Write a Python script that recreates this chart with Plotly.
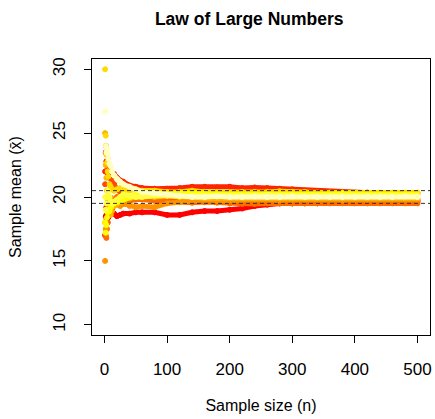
import plotly.graph_objects as go

n_sizes = [1, 2, 3, 4, 5, 6, 8, 10, 12, 15, 20, 25, 30, 40, 50, 60, 80, 100, 120, 140,
           160, 180, 200, 220, 240, 260, 280, 300, 320, 340, 360, 380, 400, 420, 440, 460, 480, 500]

# running sample means, one list per simulated sequence (heat colours, red -> pale yellow)
mean_red = [17.0, 18.5, 19.2, 18.6, 18.0, 18.4, 18.9, 19.3, 19.0, 18.7, 18.5, 18.6, 18.7, 18.7, 18.8, 18.8,
            18.8, 18.6, 18.6, 18.8, 18.9, 18.9, 19.0, 19.1, 19.3, 19.4, 19.5, 19.5, 19.6, 19.6, 19.65, 19.7,
            19.7, 19.7, 19.7, 19.7, 19.7, 19.7]
mean_red2 = [22.0, 23.5, 22.8, 22.0, 22.5, 21.8, 21.5, 21.9, 21.6, 21.8, 21.5, 21.3, 21.2, 20.9, 20.8, 20.7,
             20.65, 20.65, 20.7, 20.8, 20.8, 20.75, 20.8, 20.7, 20.75, 20.7, 20.65, 20.6, 20.5, 20.45, 20.4,
             20.4, 20.35, 20.35, 20.3, 20.3, 20.3, 20.3]
mean_orange_red = [21.0, 24.0, 23.4, 22.5, 22.2, 21.8, 22.0, 21.6, 21.2, 21.0, 20.6, 20.4, 20.2, 20.0, 20.1,
                   20.0, 19.9, 19.9, 19.8, 19.8, 19.7, 19.6, 19.6, 19.5, 19.5, 19.5, 19.5, 19.5, 19.5, 19.5,
                   19.55, 19.55, 19.55, 19.6, 19.6, 19.6, 19.6, 19.6]
mean_orange = [18.0, 17.0, 16.8, 17.5, 18.0, 18.6, 19.0, 19.3, 19.5, 19.8, 20.0, 19.9, 19.8, 19.7, 19.8, 19.8,
               19.7, 19.6, 19.6, 19.55, 19.6, 19.55, 19.5, 19.45, 19.45, 19.5, 19.5, 19.5, 19.5, 19.5, 19.5,
               19.5, 19.5, 19.5, 19.5, 19.5, 19.5, 19.5]
mean_dark_orange = [15.0, 17.5, 18.3, 19.0, 19.6, 19.2, 19.8, 19.5, 19.9, 19.6, 19.4, 19.3, 19.5, 19.3, 19.2,
                    19.3, 19.2, 19.5, 19.6, 19.7, 19.8, 19.7, 19.75, 19.8, 19.8, 19.8, 19.75, 19.8, 19.8, 19.8,
                    19.8, 19.75, 19.8, 19.8, 19.8, 19.8, 19.8, 19.8]
mean_amber = [25.0, 22.5, 21.5, 20.5, 19.8, 19.5, 19.0, 18.6, 18.9, 19.3, 19.5, 19.6, 19.8, 19.9, 20.0, 20.1,
              20.0, 20.1, 20.0, 20.0, 19.9, 19.9, 19.95, 19.9, 19.9, 19.95, 19.9, 19.9, 19.9, 19.95, 19.95,
              19.9, 19.9, 19.9, 19.9, 19.9, 19.9, 19.9]
mean_gold = [30.0, 24.8, 23.3, 22.7, 22.0, 21.6, 21.0, 20.8, 20.6, 20.5, 20.6, 20.7, 20.6, 20.5, 20.6, 20.5,
             20.5, 20.4, 20.4, 20.5, 20.4, 20.4, 20.35, 20.4, 20.4, 20.4, 20.45, 20.4, 20.4, 20.35, 20.35,
             20.35, 20.35, 20.35, 20.35, 20.35, 20.35, 20.35]
mean_yellow = [18.0, 17.2, 17.8, 18.4, 18.8, 19.0, 18.9, 19.2, 19.4, 19.5, 19.6, 19.7, 19.8, 20.0, 20.2, 20.3,
               20.3, 20.2, 20.3, 20.3, 20.25, 20.2, 20.2, 20.2, 20.2, 20.15, 20.2, 20.2, 20.2, 20.2, 20.2,
               20.25, 20.2, 20.2, 20.2, 20.2, 20.2, 20.2]
mean_light_yellow = [20.0, 19.0, 19.5, 20.0, 20.5, 20.2, 20.0, 19.7, 19.5, 19.6, 19.8, 20.0, 20.2, 20.1, 20.0,
                     20.0, 20.1, 20.1, 20.05, 20.1, 20.1, 20.1, 20.05, 20.1, 20.1, 20.15, 20.1, 20.1, 20.1,
                     20.1, 20.05, 20.1, 20.1, 20.1, 20.1, 20.1, 20.1, 20.1]
mean_cream = [26.7, 24.0, 23.5, 23.8, 23.4, 23.0, 22.6, 22.4, 22.0, 21.7, 21.4, 21.2, 21.0, 20.8, 20.6, 20.4,
              20.3, 20.2, 20.1, 20.0, 20.0, 20.05, 20.0, 20.0, 20.05, 20.0, 20.0, 20.05, 20.0, 20.0, 20.0,
              20.0, 20.0, 20.0, 20.0, 20.0, 20.05, 20.0]

all_means = [mean_red, mean_red2, mean_orange_red, mean_orange, mean_dark_orange,
             mean_amber, mean_gold, mean_yellow, mean_light_yellow, mean_cream]
colours = ["#FF0000", "#FF2400", "#FF4900", "#FF6D00", "#FF9200",
           "#FFB600", "#FFDB00", "#FFFF00", "#FFFF40", "#FFFFBF"]

band_lines = [19.5, 20.5]
x_ticks = [0, 100, 200, 300, 400, 500]
y_ticks = [10, 15, 20, 25, 30]

# first few sample sizes jump around a lot: show them as loose dots only
n_early = 10

fig = go.Figure()

for means, colour in zip(all_means, colours):
    fig.add_trace(go.Scatter(
        x=n_sizes[:n_early], y=means[:n_early], mode="markers",
        marker=dict(size=5, color=colour, line=dict(color=colour, width=1)),
        showlegend=False, hoverinfo="skip",
    ))
    fig.add_trace(go.Scatter(
        x=n_sizes[n_early - 1:], y=means[n_early - 1:], mode="lines+markers",
        line=dict(color=colour, width=5),
        marker=dict(size=5, color=colour, line=dict(color=colour, width=1)),
        showlegend=False, hoverinfo="skip",
    ))

for level in band_lines:
    fig.add_hline(y=level, line=dict(color="#333333", width=1, dash="4px,3px"))

font = "Liberation Sans"

fig.update_layout(
    width=435, height=419,
    margin=dict(l=92, r=3, t=59, b=84),
    paper_bgcolor="white", plot_bgcolor="white",
    font=dict(family=font, size=17, color="black"),
    title=dict(text="<b>Law of Large Numbers</b>", x=0.573, xanchor="center",
               y=0.955, yanchor="middle", font=dict(size=17.5)),
)

fig.update_xaxes(
    range=[-19.96, 519.96], tickvals=x_ticks, showgrid=False, zeroline=False,
    showline=True, linecolor="black", linewidth=1, mirror=True,
    ticks="outside", ticklen=7, tickcolor="black", ticklabelstandoff=12,
    title=dict(text="Sample size (n)", standoff=21, font=dict(size=16)),
)
fig.update_yaxes(
    range=[9.2, 30.8], tickvals=y_ticks, tickangle=-90, showgrid=False, zeroline=False,
    showline=True, linecolor="black", linewidth=1, mirror=True,
    ticks="outside", ticklen=7, tickcolor="black", ticklabelstandoff=12,
    title=dict(text="Sample mean (x\u0304)", standoff=24, font=dict(size=16)),
)

# drop the browser's default body margin so the figure sits at the window corner
fig.write_html("out.html", config={"displayModeBar": False},
               post_script="document.body.style.margin = '0';")
